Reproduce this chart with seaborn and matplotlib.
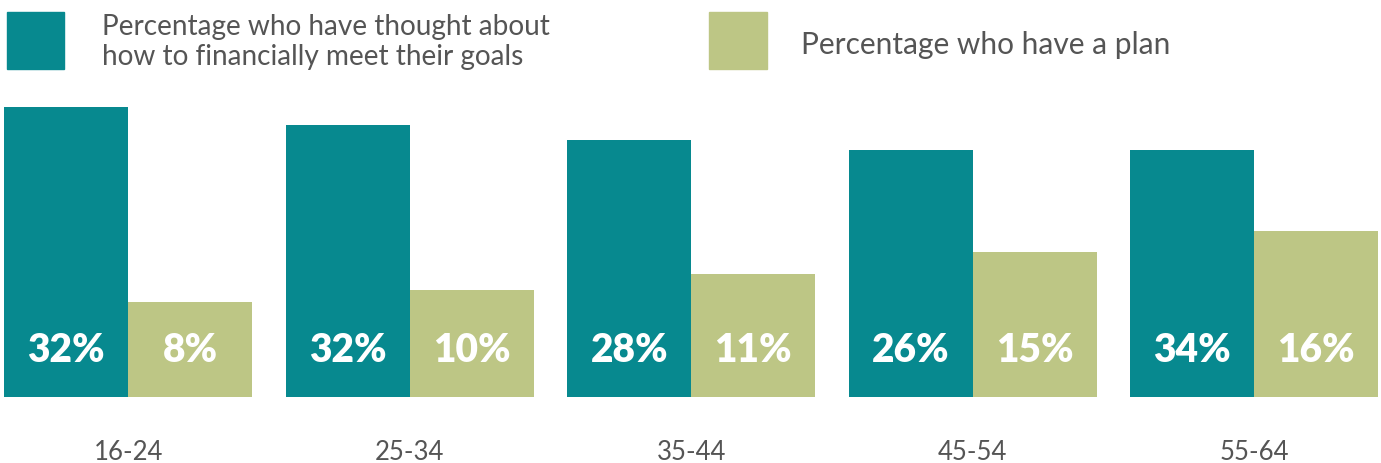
import numpy as np
import pandas as pd
import matplotlib.pyplot as plt
from matplotlib.patches import Rectangle
import seaborn as sb

# age groups and the two series
age_groups = ['16-24', '25-34', '35-44', '45-54', '55-64']
series_names = ['Percentage who have thought about\nhow to financially meet their goals',
                'Percentage who have a plan']

# bar heights as drawn in the picture (they do not follow the printed labels)
thought_height = [290, 272, 257, 247, 247]
plan_height = [95, 107, 123, 145, 166]

# printed labels
thought_labels = ['32%', '32%', '28%', '26%', '34%']
plan_labels = ['8%', '10%', '11%', '15%', '16%']

teal = '#07898f'
green = '#bdc685'
grey = '#555555'

df = pd.DataFrame({
    'age': age_groups * 2,
    'height': thought_height + plan_height,
    'series': [series_names[0]] * 5 + [series_names[1]] * 5,
})

sb.set_style('white')
plt.rcParams['font.family'] = ['Lato', 'DejaVu Sans']

W, H = 1381, 464
fig = plt.figure(figsize=(W / 100, H / 100), dpi=100)
# axes from y=100px to the baseline at y=398px, full width
ax = fig.add_axes([0, (H - 398) / H, 1, 298 / H])

sb.barplot(data=df, x='age', y='height', hue='series', palette=[teal, green],
           width=0.88, saturation=1, linewidth=0, legend=False, ax=ax)

ax.set_xlim(-0.455, 4.45)
ax.set_ylim(0, 298)
sb.despine(ax=ax, left=True, bottom=True)
ax.set_yticks([])
ax.set_xlabel('')
ax.set_ylabel('')
ax.tick_params(axis='x', length=0, pad=30, labelsize=18.5, labelcolor=grey)

# value labels sit at a fixed height above the baseline
for cont, labels in zip(ax.containers, [thought_labels, plan_labels]):
    for bar, lab in zip(cont, labels):
        ax.text(bar.get_x() + bar.get_width() / 2, 47, lab, ha='center', va='center',
                color='white', fontsize=28, fontweight='heavy')

# legend drawn by hand
fig.add_artist(Rectangle((7 / W, 1 - 70 / H), 57 / W, 57 / H, color=teal,
                         transform=fig.transFigure))
fig.add_artist(Rectangle((709 / W, 1 - 70 / H), 58 / W, 57 / H, color=green,
                         transform=fig.transFigure))
fig.text(102 / W, 1 - 42 / H, series_names[0], ha='left', va='center', color=grey,
         fontsize=20.2, linespacing=1.22)
fig.text(801 / W, 1 - 45 / H, series_names[1], ha='left', va='center', color=grey,
         fontsize=21.5)

plt.savefig('out.png', dpi=100)
